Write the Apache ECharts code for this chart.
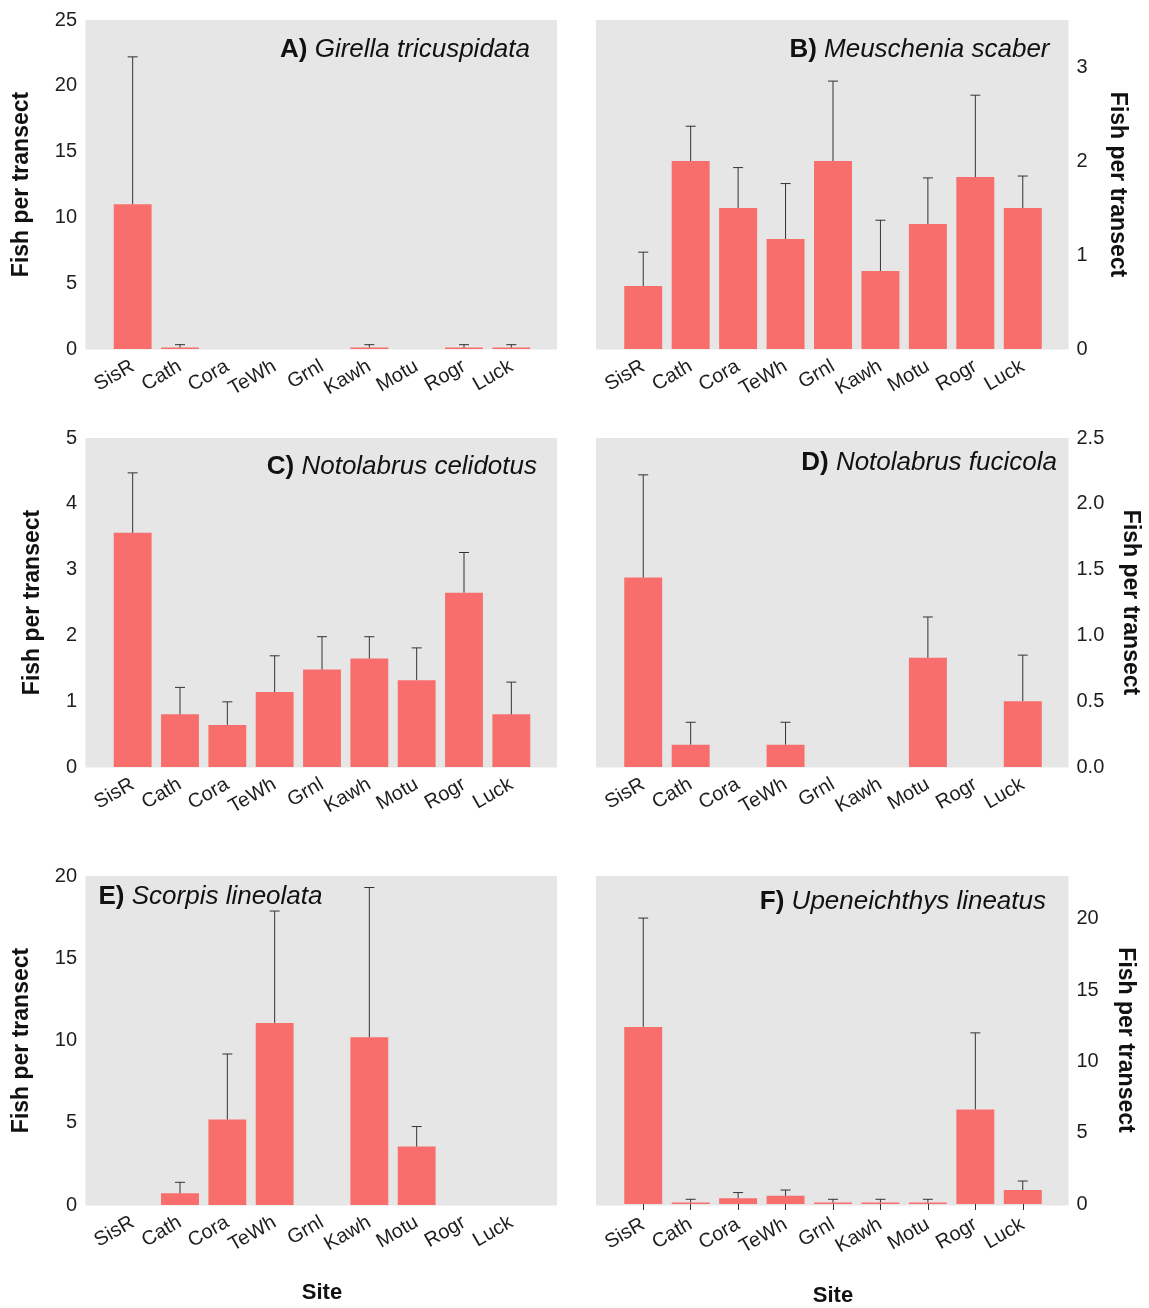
<!DOCTYPE html>
<html>
<head>
<meta charset="utf-8">
<script src="https://cdn.jsdelivr.net/npm/echarts@6/dist/echarts.min.js"></script>
<style>
html,body{margin:0;padding:0;background:#fff;}
#chart{width:1149px;height:1308px;}
</style>
</head>
<body>
<div id="chart"></div>
<script>
// ---------------- data ----------------
const sites = ['SisR','Cath','Cora','TeWh','Grnl','Kawh','Motu','Rogr','Luck'];

const girellaMean  = [11.0, 0.11, 0, 0, 0, 0.11, 0, 0.11, 0.11];
const girellaUpper = [22.2, 0.33, null, null, null, 0.33, null, 0.33, 0.33];

const meuscheniaMean  = [0.67, 2.0, 1.5, 1.17, 2.0, 0.83, 1.33, 1.83, 1.5];
const meuscheniaUpper = [1.03, 2.37, 1.93, 1.76, 2.85, 1.37, 1.82, 2.70, 1.84];

const celidotusMean  = [3.56, 0.80, 0.64, 1.14, 1.48, 1.65, 1.32, 2.65, 0.80];
const celidotusUpper = [4.47, 1.21, 0.99, 1.69, 1.98, 1.98, 1.81, 3.26, 1.29];

const fucicolaMean  = [1.44, 0.17, 0, 0.17, 0, 0, 0.83, 0, 0.50];
const fucicolaUpper = [2.22, 0.34, null, 0.34, null, null, 1.14, null, 0.85];

const scorpisMean  = [0, 0.71, 5.2, 11.07, 0, 10.2, 3.55, 0, 0];
const scorpisUpper = [null, 1.38, 9.18, 17.87, null, 19.3, 4.77, null, null];

const upeneichthysMean  = [12.42, 0.10, 0.40, 0.58, 0.10, 0.10, 0.10, 6.63, 0.98];
const upeneichthysUpper = [20.05, 0.33, 0.80, 0.98, 0.33, 0.33, 0.33, 12.0, 1.61];

const panelLetters = ['A)', 'B)', 'C)', 'D)', 'E)', 'F)'];
const panelSpecies = ['Girella tricuspidata', 'Meuschenia scaber', 'Notolabrus celidotus',
                      'Notolabrus fucicola', 'Scorpis lineolata', 'Upeneichthys lineatus'];
const yMax  = [25, 3.5, 5, 2.5, 20, 23];
const yStep = [5, 1, 1, 0.5, 5, 5];
const yTitle = 'Fish per transect';
const xTitle = 'Site';

const means  = [girellaMean, meuscheniaMean, celidotusMean, fucicolaMean, scorpisMean, upeneichthysMean];
const uppers = [girellaUpper, meuscheniaUpper, celidotusUpper, fucicolaUpper, scorpisUpper, upeneichthysUpper];

// ---------------- layout ----------------
const FONT = "'Liberation Sans', Arial, Helvetica, sans-serif";
const colLeft  = [109, 619.5];
const colWidth = [426, 427];
const rowTop   = [20, 438, 876];
const gridH    = 329;
const bgPadL = 23.5, bgPadR = 22;
const barColor = '#F86E6C';
const panelBg  = '#E6E6E6';
const textColor = '#1e1e1e';

const titlePos = [
  {x: 530,    y: 50,  align: 'right'},
  {x: 1049.5, y: 50,  align: 'right'},
  {x: 537,    y: 467, align: 'right'},
  {x: 1057,   y: 463, align: 'right'},
  {x: 98.5,   y: 897, align: 'left'},
  {x: 1046,   y: 902, align: 'right'}
];
const yNameGap = [75.5, 59, 64.5, 72, 75.5, 67.5];

const grids = [], xAxes = [], yAxes = [], series = [], graphics = [];

for (let p = 0; p < 6; p++) {
  const col = p % 2, row = Math.floor(p / 2);
  const left = colLeft[col], top = rowTop[row], w = colWidth[col];
  grids.push({left: left, top: top, width: w, height: gridH});

  graphics.push({
    type: 'rect', z: -10, silent: true,
    shape: {x: left - bgPadL, y: top, width: w + bgPadL + bgPadR, height: gridH + 0.5},
    style: {fill: panelBg}
  });

  const isBottom = row === 2;
  const showTicks = p === 5;
  xAxes.push({
    type: 'category', gridIndex: p, data: sites,
    axisLine: {show: false},
    axisTick: {show: showTicks, alignWithLabel: true, length: 6, lineStyle: {color: '#333', width: 1}},
    axisLabel: {rotate: 30, margin: showTicks ? 19 : 16, fontSize: 20, fontFamily: FONT, color: textColor, interval: 0},
    name: isBottom ? xTitle : '',
    nameLocation: 'middle',
    nameGap: p === 5 ? 81 : 77,
    nameTextStyle: {fontSize: 22, fontWeight: 'bold', fontFamily: FONT, color: '#111'}
  });

  const right = col === 1;
  yAxes.push({
    type: 'value', gridIndex: p, min: 0, max: yMax[p], interval: yStep[p],
    position: right ? 'right' : 'left',
    splitLine: {show: false}, axisLine: {show: false}, axisTick: {show: false},
    axisLabel: {
      fontSize: 20, fontFamily: FONT, color: textColor, margin: right ? 30 : 32,
      showMaxLabel: (yMax[p] % yStep[p] === 0),
      formatter: p === 3 ? (v => v.toFixed(1)) : (v => String(v))
    },
    name: yTitle, nameLocation: 'middle', nameGap: yNameGap[p],
    nameRotate: right ? -90 : 90,
    nameTextStyle: {fontSize: 23, fontWeight: 'bold', fontFamily: FONT, color: '#111'}
  });

  series.push({
    type: 'bar', xAxisIndex: p, yAxisIndex: p,
    data: means[p], barCategoryGap: '20%',
    itemStyle: {color: barColor}, silent: true, z: 2
  });

  const errData = [];
  for (let i = 0; i < sites.length; i++) {
    if (uppers[p][i] != null) errData.push([i, means[p][i], uppers[p][i]]);
  }
  series.push({
    type: 'custom', xAxisIndex: p, yAxisIndex: p, z: 3, silent: true,
    encode: {x: 0, y: [1, 2]},
    data: errData,
    renderItem: function (params, api) {
      const x = api.value(0);
      const a = api.coord([x, api.value(1)]);
      const b = api.coord([x, api.value(2)]);
      const half = 5;
      const st = {stroke: '#333', lineWidth: 1};
      return {
        type: 'group',
        children: [
          {type: 'line', shape: {x1: a[0], y1: a[1], x2: b[0], y2: b[1]}, style: st},
          {type: 'line', shape: {x1: b[0] - half, y1: b[1], x2: b[0] + half, y2: b[1]}, style: st}
        ]
      };
    }
  });

  const tp = titlePos[p];
  graphics.push({
    type: 'text', z: 10, silent: true,
    x: tp.x, y: tp.y,
    style: {
      text: '{b|' + panelLetters[p] + '} {i|' + panelSpecies[p] + '}',
      align: tp.align, verticalAlign: 'middle',
      fontFamily: FONT, fontSize: 26, fill: '#111',
      rich: {
        b: {fontWeight: 'bold', fontSize: 26, fontFamily: FONT, fill: '#111'},
        i: {fontStyle: 'italic', fontSize: 26, fontFamily: FONT, fill: '#111'}
      }
    }
  });
}

const chart = echarts.init(document.getElementById('chart'), null, {renderer: 'canvas'});
chart.setOption({
  backgroundColor: '#fff',
  animation: false,
  grid: grids,
  xAxis: xAxes,
  yAxis: yAxes,
  series: series,
  graphic: graphics
});
</script>
</body>
</html>
